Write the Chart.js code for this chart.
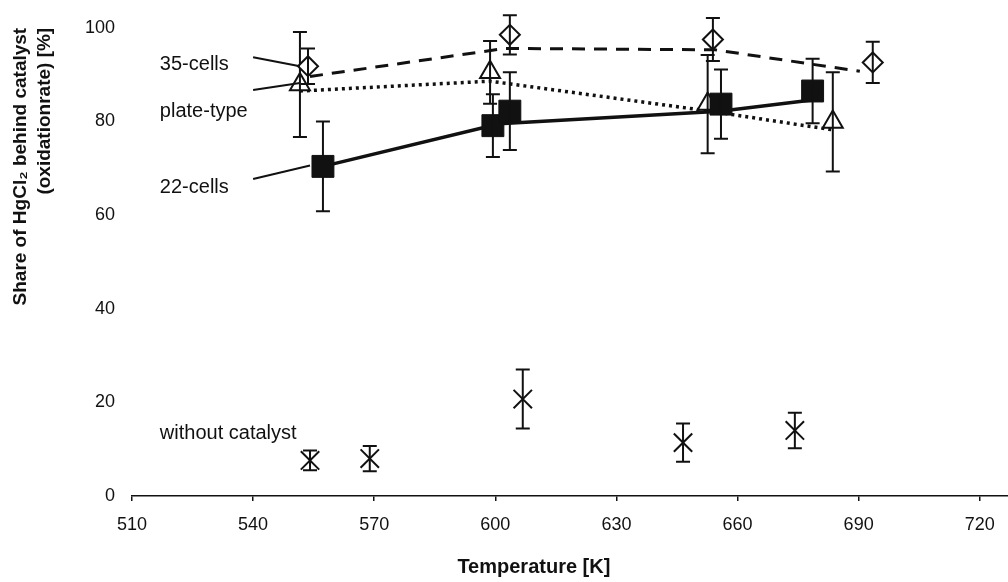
<!DOCTYPE html>
<html><head><meta charset="utf-8">
<script src="https://cdn.jsdelivr.net/npm/chart.js@4.4.0/dist/chart.umd.min.js"></script>
<style>html,body{margin:0;padding:0;background:#fff}#wrap{width:1008px;height:582px}</style>
</head><body><div id="wrap"><canvas id="c" width="1008" height="582"></canvas></div>
<script>
// ---- data ----
const xTickValues = [510, 540, 570, 600, 630, 660, 690, 720];
const yTickValues = [0, 20, 40, 60, 80, 100];

// 22-cells (filled squares + solid line)
const cells22Temp = [557.3, 599.4, 603.6, 655.9, 678.6];
const cells22Val  = [70.4, 79.1, 82.2, 83.7, 86.5];
const cells22Err  = [9.6, 6.7, 8.3, 7.4, 6.9];
const cells22LineTemp = [557.3, 601.0, 655.6, 678.5];
const cells22LineVal  = [70.4, 79.5, 82.2, 84.6];

// 35-cells (open diamonds + dashed line)
const cells35Temp = [553.6, 603.6, 653.9, 693.5];
const cells35Val  = [91.8, 98.5, 97.5, 92.6];
const cells35Err  = [3.8, 4.2, 4.6, 4.4];
const cells35LineTemp = [554.1, 602.4, 654.4, 690.3];
const cells35LineVal  = [89.6, 95.6, 95.3, 90.7];

// plate-type (open triangles + dotted line)
const plateTemp = [551.6, 598.7, 652.6, 683.6];
const plateVal  = [87.9, 90.5, 83.7, 79.9];
const plateErr  = [11.2, 6.7, 10.5, 10.6];
const plateLineTemp = [551.6, 598.7, 653.1, 683.6];
const plateLineVal  = [86.5, 88.6, 82.2, 78.2];

// without catalyst (crosses)
const noCatTemp = [554.1, 568.9, 606.8, 646.5, 674.2];
const noCatVal  = [7.6, 8.0, 20.7, 11.4, 14.0];
const noCatErr  = [2.1, 2.7, 6.3, 4.1, 3.8];

// ---- annotations (label text, anchors in data units) ----
const annotations = [
  { text: '35-cells',         at: [516.9, 92.2], leader: [[540.0, 93.7], [551.6, 91.8]] },
  { text: 'plate-type',       at: [516.9, 82.2], leader: [[540.0, 86.7], [551.6, 88.2]] },
  { text: '22-cells',         at: [516.9, 65.8], leader: [[540.0, 67.7], [554.1, 70.6]] },
  { text: 'without catalyst', at: [516.9, 13.3], leader: null }
];

const FAMILY = '"Liberation Sans", Arial, Helvetica, sans-serif';
const INK = '#111';

const pts = (xs, ys) => xs.map((x, i) => ({ x: x, y: ys[i] }));

const errorBarPlugin = {
  id: 'errbars',
  afterDatasetDraw(chart, args) {
    const ds = chart.data.datasets[args.index];
    if (!ds.errors) return;
    const ctx = chart.ctx, xs = chart.scales.x, ys = chart.scales.y;
    ctx.save();
    ctx.strokeStyle = INK; ctx.lineWidth = 2;
    ds.data.forEach((p, i) => {
      const e = ds.errors[i];
      const x = xs.getPixelForValue(p.x);
      const y1 = ys.getPixelForValue(p.y + e);
      const y2 = ys.getPixelForValue(p.y - e);
      const w = 7;
      ctx.beginPath();
      ctx.moveTo(x, y1); ctx.lineTo(x, y2);
      ctx.moveTo(x - w, y1); ctx.lineTo(x + w, y1);
      ctx.moveTo(x - w, y2); ctx.lineTo(x + w, y2);
      ctx.stroke();
    });
    ctx.restore();
  }
};

const annotationPlugin = {
  id: 'annots',
  afterDraw(chart) {
    const ctx = chart.ctx, xs = chart.scales.x, ys = chart.scales.y;
    ctx.save();
    ctx.fillStyle = INK; ctx.strokeStyle = INK; ctx.lineWidth = 2;
    ctx.font = '20px ' + FAMILY;
    ctx.textAlign = 'left'; ctx.textBaseline = 'middle';
    annotations.forEach(a => {
      ctx.fillText(a.text, xs.getPixelForValue(a.at[0]), ys.getPixelForValue(a.at[1]));
      if (a.leader) {
        ctx.beginPath();
        ctx.moveTo(xs.getPixelForValue(a.leader[0][0]), ys.getPixelForValue(a.leader[0][1]));
        ctx.lineTo(xs.getPixelForValue(a.leader[1][0]), ys.getPixelForValue(a.leader[1][1]));
        ctx.stroke();
      }
    });
    ctx.restore();
  }
};

new Chart(document.getElementById('c'), {
  type: 'scatter',
  data: {
    datasets: [
      { label: '22-cells', data: pts(cells22Temp, cells22Val), errors: cells22Err,
        pointStyle: 'rect', pointRadius: 15.5, backgroundColor: INK, borderColor: INK, borderWidth: 1, showLine: false, clip: false },
      { label: '22-cells line', data: pts(cells22LineTemp, cells22LineVal),
        showLine: true, pointRadius: 0, borderColor: INK, borderWidth: 3.5, clip: false },
      { label: 'without catalyst', data: pts(noCatTemp, noCatVal), errors: noCatErr,
        pointStyle: 'crossRot', pointRadius: 13, borderColor: INK, borderWidth: 2, showLine: false, clip: false },
      { label: '35-cells', data: pts(cells35Temp, cells35Val), errors: cells35Err,
        pointStyle: 'rectRot', pointRadius: 10, backgroundColor: '#fff', borderColor: INK, borderWidth: 2, showLine: false, clip: false },
      { label: 'plate-type', data: pts(plateTemp, plateVal), errors: plateErr,
        pointStyle: 'triangle', pointRadius: 11.5, backgroundColor: '#fff', borderColor: INK, borderWidth: 2, showLine: false, clip: false },
      { label: '35-cells line', data: pts(cells35LineTemp, cells35LineVal),
        showLine: true, pointRadius: 0, borderColor: INK, borderWidth: 3, borderDash: [13, 9], clip: false },
      { label: 'plate-type line', data: pts(plateLineTemp, plateLineVal),
        showLine: true, pointRadius: 0, borderColor: INK, borderWidth: 3.5, borderDash: [3, 4], clip: false }
    ]
  },
  options: {
    responsive: false,
    devicePixelRatio: 1,
    animation: false,
    layout: { autoPadding: false, padding: { top: 23, right: 0, left: 0, bottom: 0 } },
    plugins: { legend: { display: false }, tooltip: { enabled: false } },
    scales: {
      x: {
        type: 'linear', min: 510, max: 727,
        afterBuildTicks: s => { s.ticks = xTickValues.map(v => ({ value: v })); },
        ticks: { color: INK, font: { size: 18, family: FAMILY }, padding: 13, maxRotation: 0, autoSkip: false, includeBounds: false },
        grid: { display: true, drawOnChartArea: false, drawTicks: true, tickLength: 5, color: INK, lineWidth: 1.5 },
        border: { display: true, color: INK, width: 1.5 },
        title: { display: true, text: 'Temperature [K]' + ' '.repeat(13), color: INK,
                 font: { size: 20, weight: 'bold', family: FAMILY, lineHeight: 1.2 }, padding: { top: 0, bottom: 3 } },
        afterFit: s => { s.height = 86; s.paddingRight = 0; s.paddingLeft = 0; }
      },
      y: {
        type: 'linear', min: 0, max: 100,
        afterBuildTicks: s => { s.ticks = yTickValues.map(v => ({ value: v })); },
        ticks: { color: INK, font: { size: 18, family: FAMILY }, padding: 17 },
        grid: { display: false, drawTicks: false },
        border: { display: false },
        title: { display: true, align: 'end', text: ['Share of HgCl\u2082 behind catalyst', '(oxidationrate) [%]'], color: INK,
                 font: { size: 19, weight: 'bold', family: FAMILY, lineHeight: 1.3 }, padding: { top: 8, bottom: 0 } },
        afterFit: s => { s.width = 132; }
      }
    }
  },
  plugins: [errorBarPlugin, annotationPlugin]
});
</script>
</body></html>
